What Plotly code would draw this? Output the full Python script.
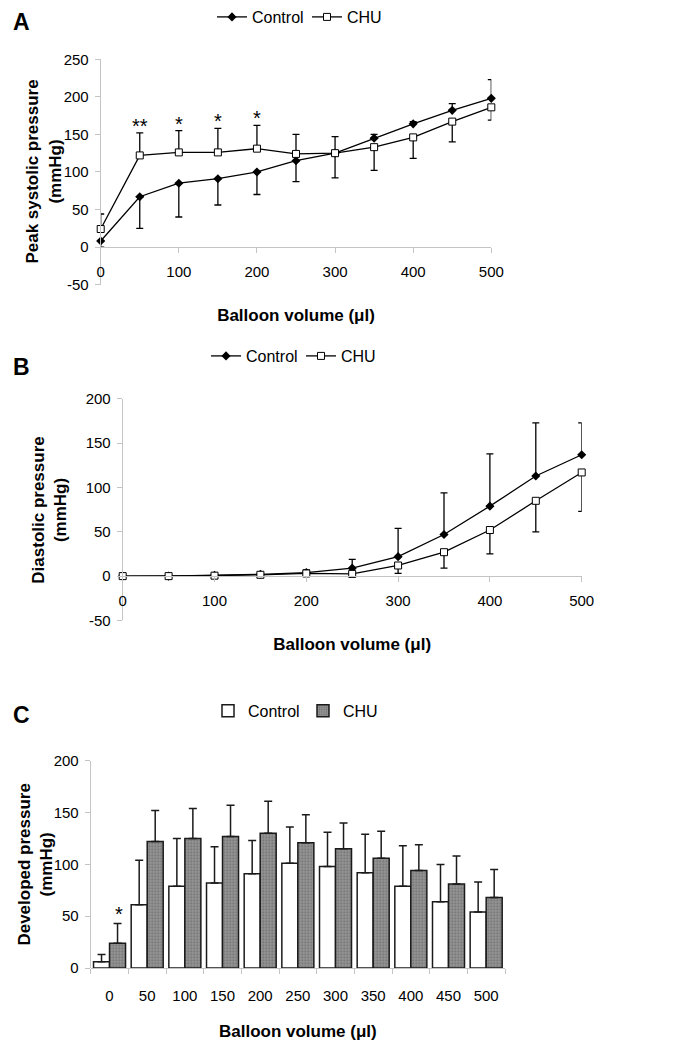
import plotly.graph_objects as go

# ---------------- data ----------------
volumes = [0, 50, 100, 150, 200, 250, 300, 350, 400, 450, 500]
vol_labels = ["0", "50", "100", "150", "200", "250", "300", "350", "400", "450", "500"]

# Panel A: peak systolic pressure (mmHg)
sys_ctrl = [8, 67, 85, 91, 100, 115, 125, 145, 164, 182, 198]
sys_ctrl_err_up = [0, 0, 0, 0, 0, 0, 0, 5, 3, 9, 25]
sys_ctrl_err_down = [8, 42, 45, 35, 30, 28, 33, 0, 0, 0, 0]
sys_chu = [24, 122, 126, 126, 131, 124, 125, 133, 146, 167, 186]
sys_chu_err_up = [20, 30, 29, 32, 31, 26, 22, 0, 0, 0, 0]
sys_chu_err_down = [0, 0, 0, 0, 0, 0, 0, 31, 28, 27, 17]
sys_sig = ["", "**", "*", "*", "*", "", "", "", "", "", ""]
sys_yticks = [-50, 0, 50, 100, 150, 200, 250]
sys_ylabels = ["-50", "0", "50", "100", "150", "200", "250"]

# Panel B: diastolic pressure (mmHg)
dia_ctrl = [0, 0, 1, 2, 4, 9, 22, 47, 79, 113, 137]
dia_ctrl_err_up = [0, 0, 0, 0, 3, 10, 32, 47, 59, 60, 36]
dia_chu = [0, 0, 0.5, 1.5, 3, 2.5, 12, 27, 52, 85, 117]
dia_chu_err_down = [0, 0, 0, 0, 0, 0, 9, 18, 27, 35, 44]
dia_yticks = [-50, 0, 50, 100, 150, 200]
dia_ylabels = ["-50", "0", "50", "100", "150", "200"]

# Panel C: developed pressure (mmHg)
dev_ctrl = [6, 61, 79, 82, 91, 101, 98, 92, 79, 64, 54]
dev_ctrl_err = [7, 43, 46, 35, 32, 35, 33, 37, 39, 36, 29]
dev_chu = [24, 122, 125, 127, 130, 121, 115, 106, 94, 81, 68]
dev_chu_err = [19, 30, 29, 30, 31, 27, 25, 26, 25, 27, 27]
dev_sig = ["*", "***", "**", "**", "**", "", "", "", "", "", ""]
dev_yticks = [0, 50, 100, 150, 200]
dev_ylabels = ["0", "50", "100", "150", "200"]

# ---------------- style ----------------
W, H = 685, 1049
SANS = "Liberation Sans, Arial, sans-serif"
AXC = "#c4c4c4"


def fx(px):
    return px / W


def fy(py):
    return 1 - py / H


zeros = [0] * len(volumes)
fig = go.Figure()

# ---- Panel A ----
fig.add_trace(go.Scatter(
    x=volumes, y=sys_ctrl, mode="lines+markers", name="Control",
    line=dict(color="black", width=1.3),
    marker=dict(symbol="diamond", size=7, color="black"),
    error_y=dict(type="data", symmetric=False, array=sys_ctrl_err_up,
                 arrayminus=sys_ctrl_err_down, color="black", thickness=1.3, width=3.5),
    xaxis="x", yaxis="y", legend="legend", cliponaxis=False))
fig.add_trace(go.Scatter(
    x=volumes, y=sys_chu, mode="lines+markers", name="CHU",
    line=dict(color="black", width=1.3),
    marker=dict(symbol="square", size=7, color="white", line=dict(color="black", width=1)),
    error_y=dict(type="data", symmetric=False, array=sys_chu_err_up,
                 arrayminus=sys_chu_err_down, color="black", thickness=1.3, width=3.5),
    xaxis="x", yaxis="y", legend="legend", cliponaxis=False))

# ---- Panel B ----
fig.add_trace(go.Scatter(
    x=volumes, y=dia_ctrl, mode="lines+markers", name="Control",
    line=dict(color="black", width=1.3),
    marker=dict(symbol="diamond", size=7, color="black"),
    error_y=dict(type="data", symmetric=False, array=dia_ctrl_err_up,
                 arrayminus=zeros, color="black", thickness=1.3, width=3.5),
    xaxis="x2", yaxis="y2", legend="legend2", cliponaxis=False))
fig.add_trace(go.Scatter(
    x=volumes, y=dia_chu, mode="lines+markers", name="CHU",
    line=dict(color="black", width=1.3),
    marker=dict(symbol="square", size=7, color="white", line=dict(color="black", width=1)),
    error_y=dict(type="data", symmetric=False, array=zeros,
                 arrayminus=dia_chu_err_down, color="black", thickness=1.3, width=3.5),
    xaxis="x2", yaxis="y2", legend="legend2", cliponaxis=False))

# ---- Panel C ----
fig.add_trace(go.Bar(
    x=vol_labels, y=dev_ctrl, name="Control",
    marker=dict(color="white", line=dict(color="#1a1a1a", width=1.5)),
    error_y=dict(type="data", symmetric=False, array=dev_ctrl_err, arrayminus=zeros,
                 color="#1a1a1a", thickness=1.5, width=4),
    xaxis="x3", yaxis="y3", legend="legend3", cliponaxis=False))
fig.add_trace(go.Bar(
    x=vol_labels, y=dev_chu, name="CHU",
    marker=dict(color="#8a8a8a", line=dict(color="#1a1a1a", width=1.5),
                pattern=dict(shape=".", fgcolor="#6e6e6e", bgcolor="#959595", size=3, solidity=0.3)),
    error_y=dict(type="data", symmetric=False, array=dev_chu_err, arrayminus=zeros,
                 color="#1a1a1a", thickness=1.5, width=4),
    xaxis="x3", yaxis="y3", legend="legend3", cliponaxis=False))

# ---- significance marks ----
for v, y, e, s in zip(volumes, sys_chu, sys_chu_err_up, sys_sig):
    if s:
        fig.add_annotation(x=v, y=y + e, xref="x", yref="y", text=s, showarrow=False,
                           yanchor="bottom", yshift=-6, font=dict(family=SANS, size=20, color="black"))
for lab, y, e, s in zip(vol_labels, dev_chu, dev_chu_err, dev_sig):
    if s:
        fig.add_annotation(x=lab, y=y + e, xref="x3", yref="y3", text=s, showarrow=False,
                           xshift=9, yanchor="bottom", yshift=-4,
                           font=dict(family=SANS, size=20, color="black"))

# ---- panel letters ----
for letter, py in [("A", 13), ("B", 361), ("C", 712)]:
    fig.add_annotation(x=fx(11), y=fy(py), xref="paper", yref="paper", text=letter,
                       showarrow=False, xanchor="left", yanchor="middle",
                       font=dict(family=SANS, size=23, color="black", weight="bold"))

# ---- y-axis titles ----
for title, px, py in [("Peak systolic pressure<br>(mmHg)", 44, 164),
                      ("Diastolic pressure<br>(mmHg)", 50, 505),
                      ("Developed pressure<br>(mmHg)", 36, 863)]:
    fig.add_annotation(x=fx(px), y=fy(py), xref="paper", yref="paper", text=title,
                       showarrow=False, textangle=-90, xanchor="center", yanchor="middle",
                       font=dict(family=SANS, size=17, color="black", weight="bold"))

tickfont = dict(family=SANS, size=15, color="black")


def xax(domain, pos, lab_off, title_off, **kw):
    d = dict(domain=domain, anchor="free", position=pos, showline=True, linecolor=AXC,
             linewidth=1, ticks="outside", ticklen=5, tickcolor=AXC, showgrid=False,
             zeroline=False, tickfont=tickfont, automargin=False, ticklabelstandoff=lab_off,
             title=dict(text="Balloon volume (μl)",
                        font=dict(family=SANS, size=17, color="black", weight="bold"),
                        standoff=title_off))
    d.update(kw)
    return d


def yax(domain, rng, tv, tt, **kw):
    d = dict(domain=domain, range=rng, tickvals=tv, ticktext=tt, showline=True, linecolor=AXC,
             linewidth=1, ticks="outside", ticklen=5, tickcolor=AXC, showgrid=False,
             zeroline=False, tickfont=tickfont, automargin=False, ticklabelstandoff=3)
    d.update(kw)
    return d


def leg(x, y, size):
    return dict(orientation="h", x=fx(x), xanchor="left", y=fy(y), yanchor="middle",
                font=dict(family=SANS, size=size, color="black"), bgcolor="rgba(0,0,0,0)",
                itemwidth=30, traceorder="normal", entrywidth=50, entrywidthmode="pixels")


fig.update_layout(
    template="none",
    font=dict(family=SANS, color="black"),
    width=W, height=H, margin=dict(l=0, r=0, t=0, b=0, pad=0),
    paper_bgcolor="white", plot_bgcolor="white",
    barmode="group", bargap=0.15, bargroupgap=0,
    xaxis=xax([fx(100.7), fx(491.3)], fy(240), 6, 30, range=[0, 500], dtick=100),
    yaxis=yax([fy(278), fy(50.7)], [-50, 250], sys_yticks, sys_ylabels, anchor="x"),
    xaxis2=xax([fx(122.7), fx(581.7)], fy(571.7), 6, 30, range=[0, 500], dtick=100),
    yaxis2=yax([fy(616.7), fy(393.3)], [-50, 200], dia_yticks, dia_ylabels, anchor="x2"),
    xaxis3=xax([fx(90.7), fx(505)], fy(967.3), 14, 22, type="category", tickson="boundaries",
               range=[-0.5, 10.5]),
    yaxis3=yax([fy(967.3), fy(758.3)], [0, 200], dev_yticks, dev_ylabels, anchor="x3"),
    legend=leg(212, 8, 16),
    legend2=leg(206, 350, 16),
    legend3=leg(208, 708, 16),
)

fig.write_html("out.html", config={"displayModeBar": False},
               post_script="document.body.style.margin='0px';document.body.style.overflow='hidden';")
